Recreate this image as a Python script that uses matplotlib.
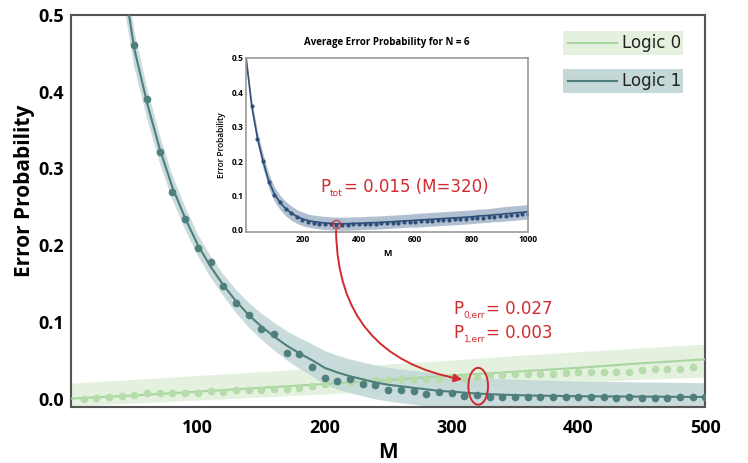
import numpy as np
import matplotlib
matplotlib.use("Agg")
import matplotlib.pyplot as plt
import matplotlib.transforms as mtransforms
from matplotlib.patches import Ellipse, Rectangle, FancyArrowPatch

# ---- main plot data ----
m_line1 = [40, 50, 60, 70, 80, 90, 100, 110, 120, 130, 140, 150, 160, 170, 180, 190,
           200, 210, 220, 230, 240, 250, 260, 270, 280, 290, 300, 320, 340, 360, 400, 450, 500]
p_line1 = [0.56, 0.455, 0.385, 0.325, 0.275, 0.235, 0.200, 0.172, 0.148, 0.127, 0.109, 0.094,
           0.081, 0.069, 0.059, 0.050, 0.040, 0.034, 0.029, 0.025, 0.021, 0.018, 0.016, 0.014,
           0.012, 0.010, 0.009, 0.0065, 0.005, 0.004, 0.003, 0.0025, 0.002]
band1_hi = [0.590, 0.479, 0.405, 0.343, 0.291, 0.250, 0.214, 0.186, 0.162, 0.142, 0.125, 0.111,
            0.099, 0.088, 0.079, 0.071, 0.062, 0.056, 0.051, 0.047, 0.043, 0.040, 0.038, 0.036,
            0.034, 0.032, 0.031, 0.0265, 0.025, 0.024, 0.022, 0.021, 0.020]
band1_lo = [0.530, 0.431, 0.365, 0.307, 0.259, 0.220, 0.186, 0.158, 0.134, 0.112, 0.093, 0.077,
            0.063, 0.050, 0.039, 0.029, 0.018, 0.012, 0.007, 0.003, -0.001, -0.004, -0.006, -0.008,
            -0.010, -0.012, -0.013, -0.0135, -0.015, -0.016, -0.016, -0.016, -0.016]
m_dots1 = list(range(50, 510, 10))
p_dots1 = [0.461, 0.390, 0.321, 0.269, 0.234, 0.196, 0.178, 0.147, 0.124, 0.109, 0.091, 0.084,
           0.059, 0.058, 0.041, 0.027, 0.023, 0.025, 0.019, 0.017, 0.011, 0.011, 0.010, 0.0055,
           0.008, 0.0076, 0.003, 0.0045, 0.0025, 0.0025, 0.0017, 0.002, 0.0025, 0.0017, 0.0017,
           0.0017, 0.0017, 0.0017, 0.0012, 0.0017, 0.0012, 0.0012, 0.0012, 0.0017, 0.0017, 0.0017]

m_line0 = [0, 50, 100, 150, 200, 250, 300, 350, 400, 450, 500]
p_line0 = [0.000, 0.004, 0.009, 0.014, 0.019, 0.024, 0.030, 0.035, 0.040, 0.046, 0.051]
band0_hi = [0.020, 0.025, 0.030, 0.035, 0.040, 0.045, 0.050, 0.056, 0.061, 0.066, 0.071]
band0_lo = [-0.010, -0.006, -0.002, 0.002, 0.006, 0.010, 0.013, 0.017, 0.021, 0.025, 0.028]
m_dots0 = list(range(10, 500, 10))
p_dots0 = [0.000, 0.001, 0.002, 0.003, 0.005, 0.007, 0.007, 0.007, 0.007, 0.007, 0.010, 0.009,
           0.011, 0.011, 0.011, 0.012, 0.012, 0.014, 0.016, 0.019, 0.021, 0.022, 0.023, 0.024,
           0.024, 0.025, 0.026, 0.026, 0.026, 0.028, 0.027, 0.028, 0.031, 0.031, 0.032, 0.032,
           0.032, 0.032, 0.033, 0.034, 0.034, 0.035, 0.035, 0.035, 0.037, 0.038, 0.038, 0.039, 0.041]

# ---- inset data ----
m_avg = list(range(0, 1020, 20))
p_avg = [0.50, 0.36, 0.268, 0.20, 0.143, 0.105, 0.080, 0.062, 0.049, 0.039, 0.032, 0.027, 0.024,
         0.022, 0.020, 0.019, 0.018, 0.018, 0.018, 0.019, 0.019, 0.020, 0.021, 0.021, 0.022,
         0.023, 0.024, 0.025, 0.026, 0.027, 0.028, 0.029, 0.030, 0.031, 0.032, 0.033, 0.034,
         0.035, 0.036, 0.037, 0.038, 0.040, 0.041, 0.042, 0.044, 0.045, 0.047, 0.048, 0.050,
         0.051, 0.053]
avg_band = [0.010, 0.016, 0.019, 0.021, 0.021, 0.021, 0.021, 0.021, 0.021, 0.020, 0.020, 0.019,
            0.019, 0.019, 0.019, 0.019, 0.019, 0.019, 0.019, 0.019, 0.019, 0.019, 0.019, 0.019,
            0.019, 0.019, 0.019, 0.019, 0.019, 0.019, 0.020, 0.020, 0.020, 0.020, 0.020, 0.020,
            0.020, 0.020, 0.020, 0.020, 0.020, 0.020, 0.020, 0.020, 0.020, 0.021, 0.021, 0.021,
            0.021, 0.021, 0.021]
m_avg_dots = list(range(20, 1020, 20))
p_avg_dots = [0.36, 0.265, 0.20, 0.14, 0.10, 0.08, 0.062, 0.050, 0.038, 0.028, 0.022, 0.020,
              0.018, 0.016, 0.016, 0.015, 0.015, 0.015, 0.016, 0.016, 0.017, 0.017, 0.018, 0.019,
              0.020, 0.021, 0.021, 0.022, 0.023, 0.024, 0.025, 0.026, 0.027, 0.028, 0.029, 0.030,
              0.031, 0.032, 0.033, 0.034, 0.035, 0.036, 0.037, 0.038, 0.039, 0.040, 0.042, 0.043,
              0.045, 0.047]

green_line = "#a9d6a0"
green_dot = "#b6dcab"
green_band = "#e4f1df"
teal_line = "#4f7f7c"
teal_band = "#c3d8d7"
navy = "#2e4f7a"
navy_band = "#a9b9cb"
red = "#d12a2f"
frame = "#555555"

fig = plt.figure(figsize=(7.48, 4.63), dpi=100)
renderer = fig.canvas.get_renderer()


def sub_text(a, x, y, main, sub, rest, size=12, subsize=6.5):
    # text with a small subscript, built from three pieces
    t1 = a.text(x, y, main, fontsize=size, color=red, va="baseline", zorder=8)
    w1 = t1.get_window_extent(renderer).width
    tr2 = mtransforms.offset_copy(a.transData, fig=fig, x=w1, y=-4, units="dots")
    t2 = a.text(x, y, sub, fontsize=subsize, color=red, va="baseline", transform=tr2, zorder=8)
    w2 = t2.get_window_extent(renderer).width
    tr3 = mtransforms.offset_copy(a.transData, fig=fig, x=w1 + w2 + 1, y=0, units="dots")
    a.text(x, y, rest, fontsize=size, color=red, va="baseline", transform=tr3, zorder=8)


ax = fig.add_axes([0.0949, 0.121, 0.848, 0.847])

ax.fill_between(m_line0, band0_lo, band0_hi, color=green_band, lw=0, zorder=1)
ax.fill_between(m_line1, band1_lo, band1_hi, color=teal_band, lw=0, alpha=0.9, zorder=1)
ax.plot(m_line0, p_line0, color=green_line, lw=1.5, zorder=3)
ax.plot(m_dots0, p_dots0, "o", color=green_dot, ms=4.5, zorder=3)
ax.plot(m_line1, p_line1, color=teal_line, lw=1.5, zorder=4)
ax.plot(m_dots1, p_dots1, "o", color=teal_line, ms=4.5, zorder=4)

ax.set_xlim(0, 500)
ax.set_ylim(-0.011, 0.5)
ax.set_xticks([100, 200, 300, 400, 500])
ax.set_yticks([0.0, 0.1, 0.2, 0.3, 0.4, 0.5])
ax.set_yticklabels(["0.0", "0.1", "0.2", "0.3", "0.4", "0.5"])
for s in ax.spines.values():
    s.set_color(frame)
    s.set_linewidth(1.5)
ax.tick_params(length=0, pad=5)
ax.tick_params(axis="x", pad=9)
for lab in ax.get_xticklabels() + ax.get_yticklabels():
    lab.set_fontfamily("Open Sans")
    lab.set_fontweight("bold")
    lab.set_fontsize(13)
ax.set_xlabel("M", fontfamily="Open Sans", fontweight="bold", fontsize=15, labelpad=3)
ax.set_ylabel("Error Probability", fontfamily="Open Sans", fontweight="bold", fontsize=15)
ax.yaxis.set_label_coords(-0.056, 0.551)

# legend drawn as shaded boxes
for (y0, col_box, col_line, txt) in [(0.898, green_band, green_line, "Logic 0"),
                                     (0.801, teal_band, teal_line, "Logic 1")]:
    ax.add_patch(Rectangle((0.776, y0), 0.189, 0.061, transform=ax.transAxes,
                           color=col_box, lw=0, zorder=5))
    ax.plot([0.784, 0.861], [y0 + 0.0305] * 2, transform=ax.transAxes,
            color=col_line, lw=1.5, zorder=6)
    ax.text(0.868, y0 + 0.0305, txt, transform=ax.transAxes, va="center", ha="left",
            fontsize=12, color="#222222", zorder=6)

# annotations on the main plot
ax.add_patch(Ellipse((321, 0.016), 15.5, 0.048, fill=False, ec=red, lw=1.4, zorder=6))
sub_text(ax, 301.4, 0.110, "P", "0,err", "= 0.027")
sub_text(ax, 301.4, 0.0785, "P", "1,err", "= 0.003")

# inset
ins = fig.add_axes([0.329, 0.499, 0.377, 0.376])
ins.fill_between(m_avg, np.array(p_avg) - np.array(avg_band), np.array(p_avg) + np.array(avg_band),
                 color=navy_band, lw=0, alpha=0.9)
ins.plot(m_avg, p_avg, color=navy, lw=1.2)
ins.plot(m_avg_dots, p_avg_dots, "o", color=navy, ms=2)
ins.plot([320], [0.018], "o", mfc="none", mec=red, ms=6, mew=0.8)
ins.set_xlim(0, 1000)
ins.set_ylim(-0.006, 0.5)
ins.set_xticks([200, 400, 600, 800, 1000])
ins.set_yticks([0.0, 0.1, 0.2, 0.3, 0.4, 0.5])
ins.set_yticklabels(["0.0", "0.1", "0.2", "0.3", "0.4", "0.5"])
for s in ins.spines.values():
    s.set_color("#999999")
    s.set_linewidth(1.2)
ins.tick_params(length=0, pad=2)
for lab in ins.get_xticklabels() + ins.get_yticklabels():
    lab.set_fontfamily("Open Sans")
    lab.set_fontweight("bold")
    lab.set_fontsize(6)
ins.set_xlabel("M", fontfamily="Open Sans", fontweight="bold", fontsize=6.5, labelpad=4)
ins.set_ylabel("Error Probability", fontfamily="Open Sans", fontweight="semibold", fontsize=6, labelpad=4)
ins.set_title("Average Error Probability for N = 6", fontfamily="Open Sans", fontweight="bold",
              fontsize=7, pad=9)
sub_text(ins, 262, 0.11, "P", "tot", "= 0.015 (M=320)")

# curved arrow from inset minimum to main-plot ellipse (figure pixels)
H = fig.bbox.height
arr = FancyArrowPatch((336, H - 228), (465, H - 380), transform=mtransforms.IdentityTransform(),
                      connectionstyle="arc3,rad=0.42", arrowstyle="-|>", mutation_scale=12,
                      color=red, lw=1.4, zorder=10)
fig.patches.append(arr)

fig.savefig("out.png", dpi=100)
